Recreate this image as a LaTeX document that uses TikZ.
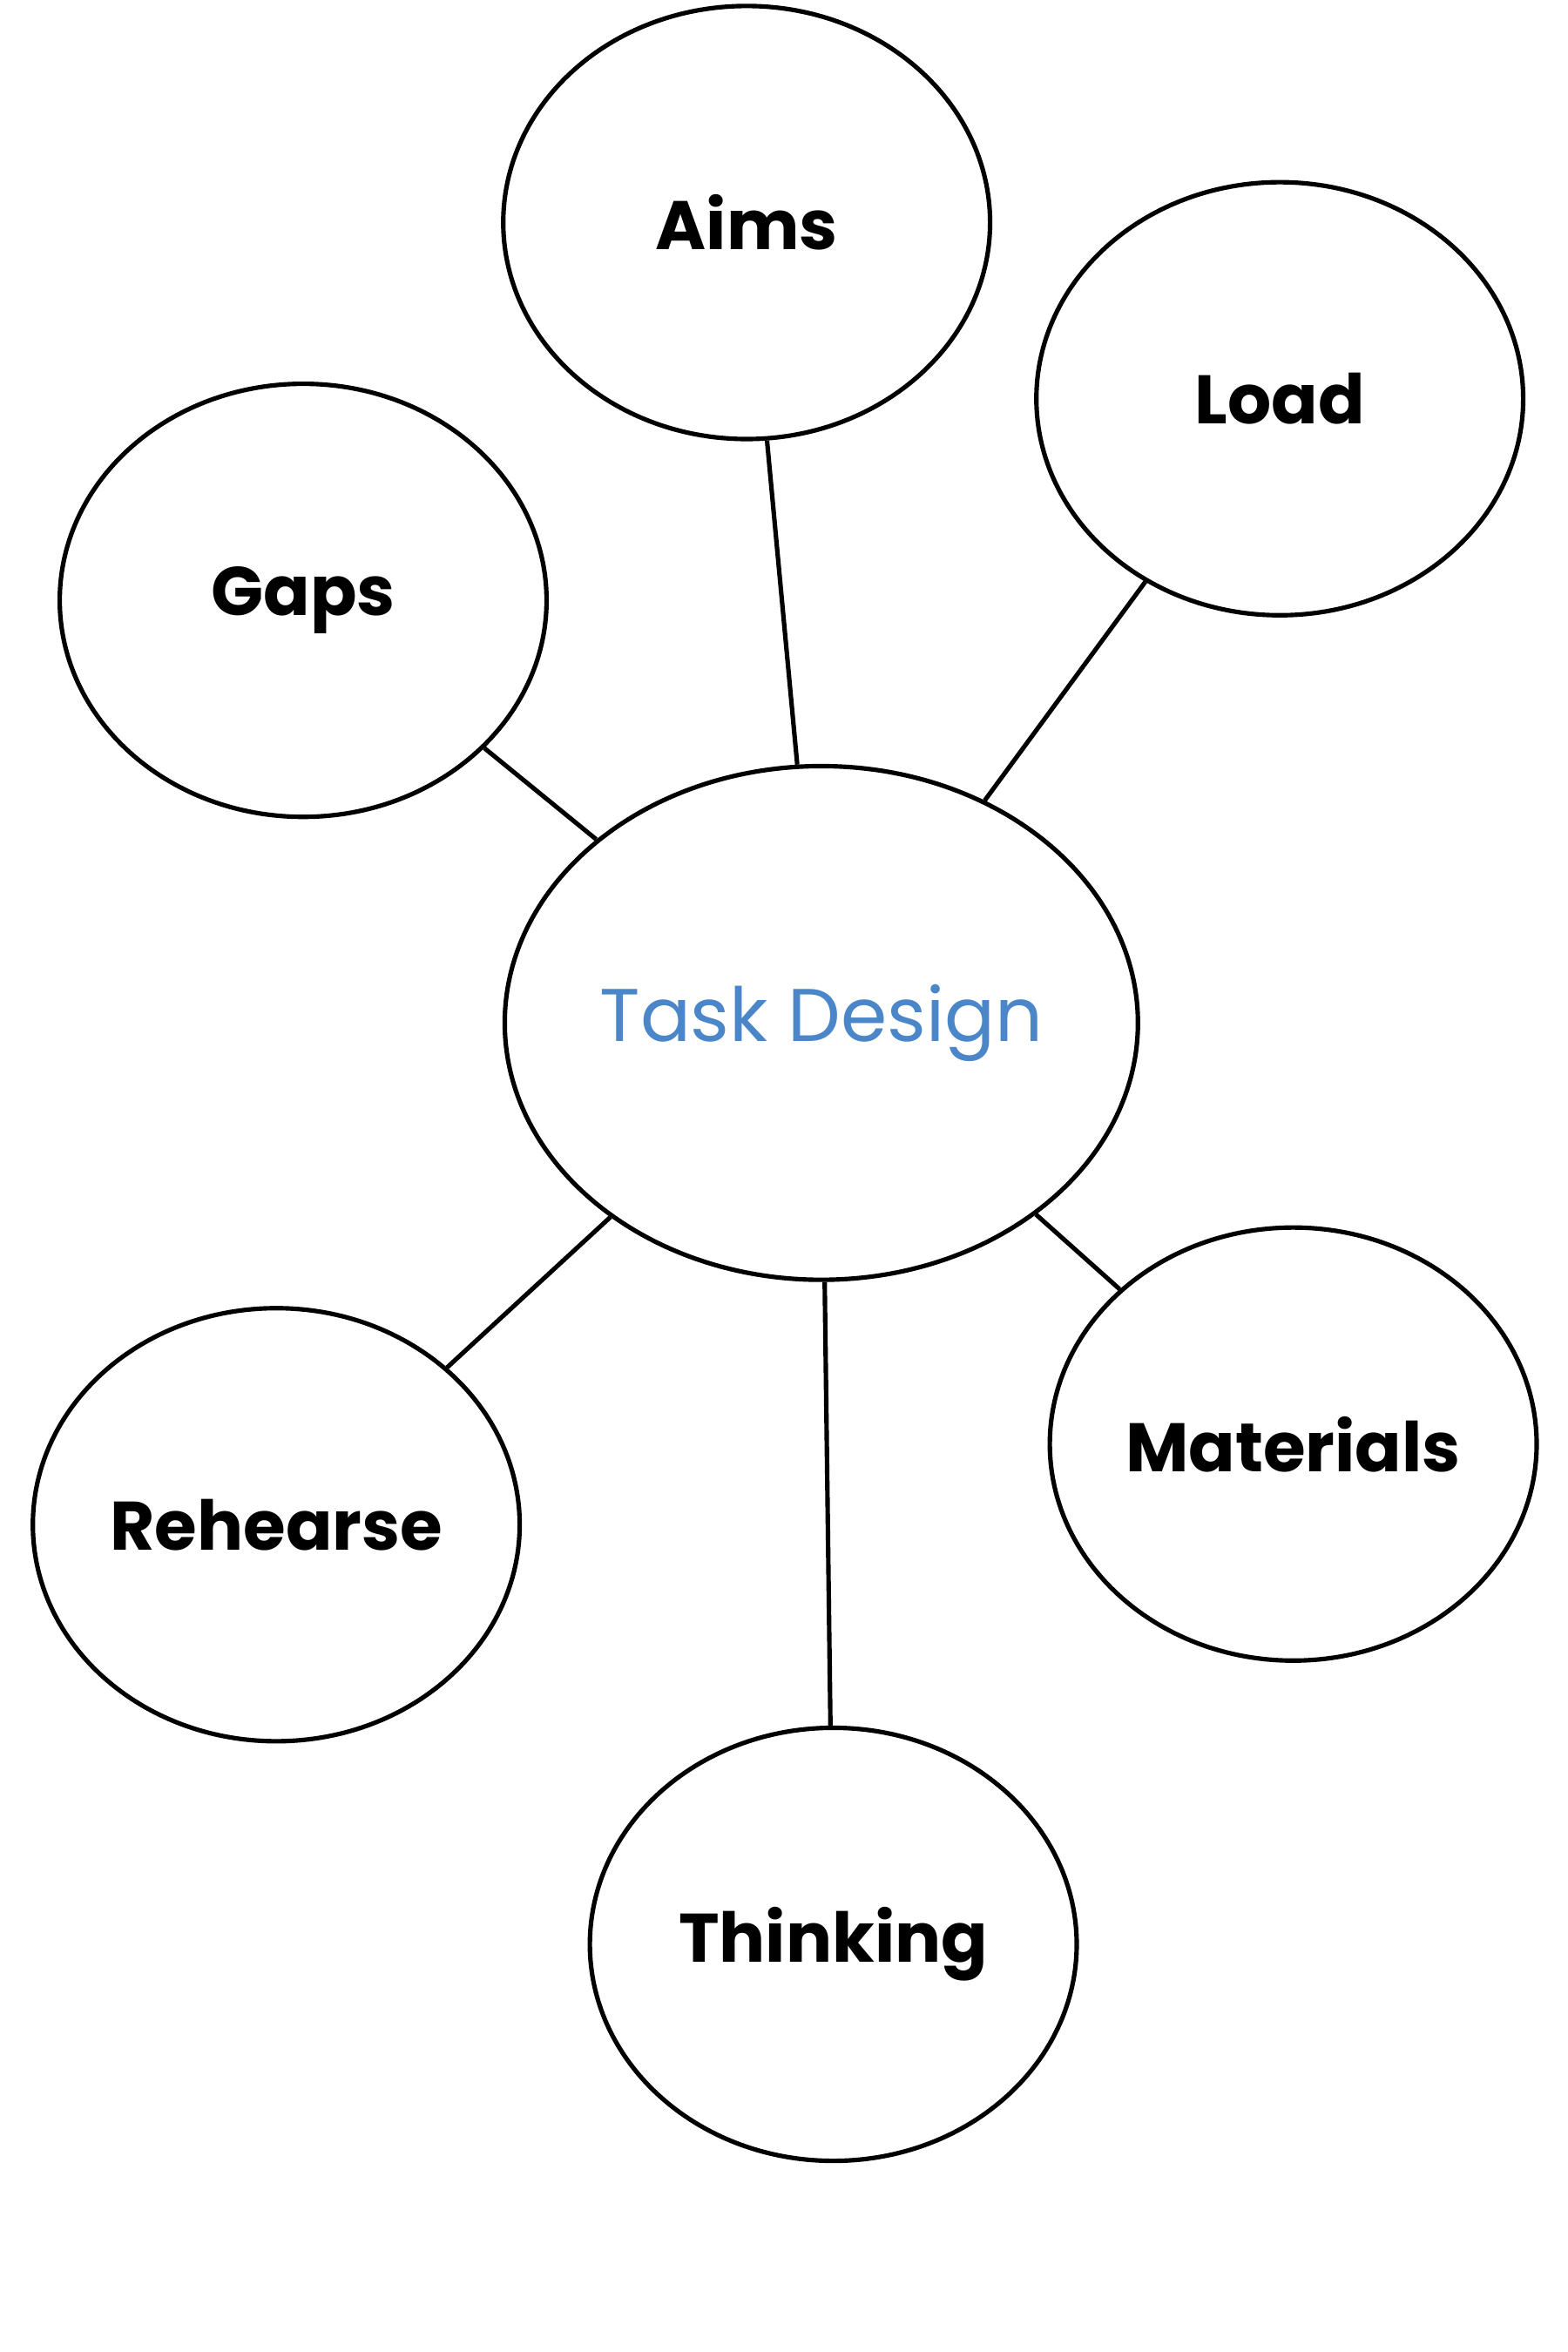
\documentclass[tikz,border=0pt]{standalone}
\usepackage{fontspec}
\setmainfont{Poppins}
\usetikzlibrary{shapes.geometric}
\definecolor{designblue}{RGB}{74,134,200}
\tikzset{every picture/.style={line width=3pt}}
\tikzset{
	bubble/.style={draw, ellipse, minimum width=326pt, minimum height=290pt, inner sep=0pt, font=\fontsize{46}{52}\selectfont\bfseries},
	hub/.style={bubble, minimum width=424pt, minimum height=344pt, text=designblue, font=\fontsize{50}{56}\selectfont}}

\begin{document}
\begin{tikzpicture}[x=1pt,y=1pt,yscale=-1,xscale=1]
	\useasboundingbox (0,0) rectangle (1050,1575);

	% Centre
	\node [hub] (design) at (550,685) {Task Design};
	% Bubbles
	\node [bubble] (aims) at (500,149) {Aims};
	\node [bubble] (load) at (857,267) {Load};
	\node [bubble] (gaps) at (203,402) {Gaps};
	\node [bubble] (materials) at (866,967) {Materials};
	\node [bubble] (rehearse) at (185,1021) {Rehearse};
	\node [bubble] (thinking) at (558,1302) {Thinking};

	% Connectors
	\draw (aims) -- (design);
	\draw (load) -- (design);
	\draw (gaps) -- (design);
	\draw (materials) -- (design);
	\draw (rehearse) -- (design);
	\draw (thinking) -- (design);
\end{tikzpicture}
\end{document}
